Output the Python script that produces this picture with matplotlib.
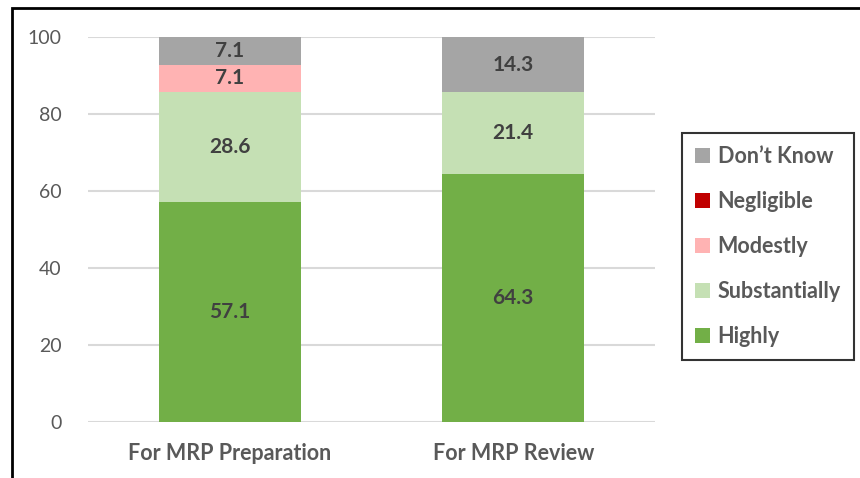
import matplotlib.pyplot as plt
from matplotlib.patches import Rectangle

categories = ["For MRP Preparation", "For MRP Review"]
series_names = ["Highly", "Substantially", "Modestly", "Negligible", "Don\u2019t Know"]
highly = [57.1, 64.3]
substantially = [28.6, 21.4]
modestly = [7.1, 0]
negligible = [0, 0]
dont_know = [7.1, 14.3]
yticks = [0, 20, 40, 60, 80, 100]

colors = ["#72AF47", "#C5E0B4", "#FFB3B3", "#C00000", "#A5A5A5"]
plt.rcParams['font.family'] = ['Lato', 'DejaVu Sans']

fig = plt.figure(figsize=(8.6, 4.78), dpi=100)
ax = fig.add_axes([0.1023, 0.1172, 0.6593, 0.8054])

x = range(len(categories))
bottoms = [0, 0]
handles = []
for name, vals, col in zip(series_names, [highly, substantially, modestly, negligible, dont_know], colors):
  bars = ax.bar(x, vals, 0.5, bottom=bottoms, color=col, label=name, zorder=2)
  handles.append(bars)
  for i, v in enumerate(vals):
    if v > 0:
      ax.text(i, bottoms[i] + v / 2, f"{v:.1f}", ha='center', va='center',
              fontsize=15, fontweight='bold', color='#404040', zorder=3)
  bottoms = [b + v for b, v in zip(bottoms, vals)]

ax.set_xlim(-0.5, 1.5)
ax.set_ylim(0, 100)
ax.set_yticks(yticks)
ax.set_xticks(list(x))
ax.set_xticklabels(categories, fontsize=15.5, fontweight='bold', color='#595959')
ax.tick_params(axis='y', labelsize=14, labelcolor='#595959', length=0, pad=19)
ax.tick_params(axis='x', length=0, pad=15)
ax.grid(axis='y', color='#D9D9D9', linewidth=1.5, zorder=0)
for s in ax.spines.values():
  s.set_visible(False)

leg = fig.legend(handles[::-1], series_names[::-1], loc='upper left',
                 bbox_to_anchor=(0.793, 0.722), borderaxespad=0,
                 frameon=True, fancybox=False,
                 edgecolor='black', handlelength=0.7, handleheight=0.7,
                 handletextpad=0.35, labelspacing=1.12, borderpad=0.6,
                 prop={'size': 15.5, 'weight': 'bold'})
leg.get_frame().set_linewidth(1.5)
for t in leg.get_texts():
  t.set_color('#595959')

# outer border of the chart (cut off at right and bottom)
fig.patches.append(Rectangle((12 / 860, -0.1), 1.2, 1 - 8 / 478 + 0.1,
                             transform=fig.transFigure, fill=False,
                             edgecolor='black', linewidth=2))

fig.savefig("out.png", dpi=100)
